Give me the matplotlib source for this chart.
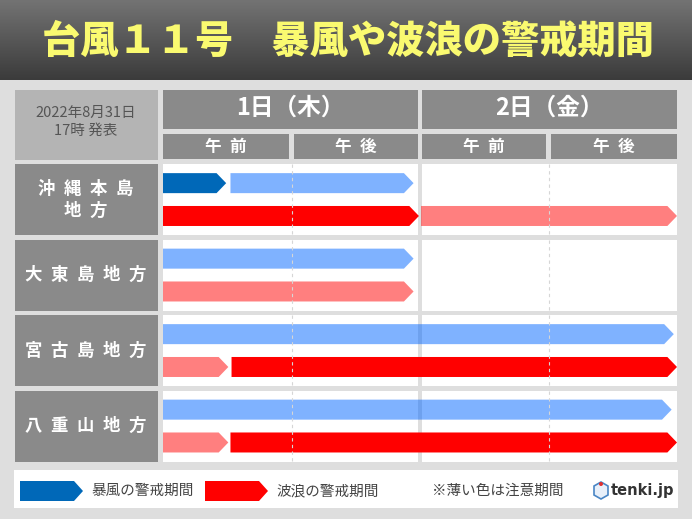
import numpy as np
import matplotlib
matplotlib.use('Agg')
import matplotlib.pyplot as plt
from matplotlib.patches import Polygon, Rectangle, Circle
from matplotlib.colors import LinearSegmentedColormap
from matplotlib.transforms import blended_transform_factory

plt.rcParams['font.family'] = ['Noto Sans CJK JP', 'DejaVu Sans']

W, H = 692, 519
SP = '\u2002'

title = '台風１１号　暴風や波浪の警戒期間'
issued = ['2022年8月31日', '17時 発表']
regions = ['沖縄本島\n地方', '大東島地方', '宮古島地方', '八重山地方']
days = ['1日（木）', '2日（金）']
halves = ['午前', '午後']

# periods in hours from 1st 00:00 : (start, end, warning?)
storm = [
    [(0, 5.9, True), (6.3, 23.4, False)],
    [(0, 23.4, False)],
    [(0, 47.7, False)],
    [(0, 47.5, False)],
]
wave = [
    [(0, 23.9, True), (24.1, 48, False)],
    [(0, 23.4, False)],
    [(0, 6.1, False), (6.4, 48, True)],
    [(0, 6.1, False), (6.3, 48, True)],
]
legend_labels = ['暴風の警戒期間', '波浪の警戒期間', '※薄い色は注意期間']

BG = '#dedede'
HEAD = '#8a8a8a'
STORM = '#0068b8'
WAVE = '#ff0000'


def arrow(x0, x1, yc, h, tip):
    return [(x0, yc - h / 2), (x1 - tip, yc - h / 2), (x1, yc),
            (x1 - tip, yc + h / 2), (x0, yc + h / 2)]


def spaced(s):
    return '\n'.join(SP.join(line) for line in s.split('\n'))


fig = plt.figure(figsize=(6.92, 5.19), dpi=100, facecolor=BG)
ax = fig.add_axes([0, 0, 1, 1])
ax.axis('off')

# title bar
grad = np.linspace(0, 1, 100).reshape(-1, 1)
cm = LinearSegmentedColormap.from_list('bar', ['#737373', '#3b3b3b'])
ax.imshow(grad, extent=[0, W, 80, 0], cmap=cm, aspect='auto')
ax.set_xlim(0, W)
ax.set_ylim(H, 0)
ax.text(W / 2 + 2, 42, title, color='#fafa70', fontsize=27.5, fontweight='heavy',
        ha='center', va='center')

# chart axes: x in hours, y in rows
x0p, x1p, y0p, y1p = 163, 677, 162, 464
gx = fig.add_axes([x0p / W, 1 - y1p / H, (x1p - x0p) / W, (y1p - y0p) / H])
gx.set_xlim(0, 48)
gx.set_ylim(4, 0)
gx.axis('off')
gx.patch.set_alpha(0)

day_spans = [(0, 23.8), (24.2, 48)]
half_spans = [(0, 11.8), (12.2, 23.8), (24.2, 35.8), (36.2, 48)]

tr_head = blended_transform_factory(gx.transData, ax.transData)
tr_rows = blended_transform_factory(ax.transData, gx.transData)

# date box
ax.add_patch(Rectangle((15, 90), 143, 70, fc='#b4b4b4', ec='none'))
ax.text(86, 113, issued[0], color='#555555', fontsize=10.5, ha='center', va='center')
ax.text(86, 131, issued[1], color='#555555', fontsize=10.5, ha='center', va='center')

# day headers
for (a, b), lab in zip(day_spans, days):
    ax.add_patch(Rectangle((a, 90), b - a, 39, fc=HEAD, ec='none',
                           transform=tr_head, clip_on=False))
    ax.text((a + b) / 2, 108, lab, color='white', fontsize=17, fontweight='bold',
            ha='center', va='center', transform=tr_head)
for k, (a, b) in enumerate(half_spans):
    ax.add_patch(Rectangle((a, 134), b - a, 25, fc=HEAD, ec='none',
                           transform=tr_head, clip_on=False))
    ax.text((a + b) / 2, 146.5, spaced(halves[k % 2]), color='white', fontsize=12,
            fontweight='bold', ha='center', va='center', transform=tr_head)

# rows
for i, name in enumerate(regions):
    ax.add_patch(Rectangle((15, i + 0.03), 143, 0.94, fc=HEAD, ec='none',
                           transform=tr_rows, clip_on=False))
    ax.text(86, i + 0.5, spaced(name), color='white', fontsize=12.5, fontweight='bold',
            ha='center', va='center', linespacing=1.3, transform=tr_rows)
    for a, b in day_spans:
        gx.add_patch(Rectangle((a, i + 0.03), b - a, 0.94, fc='white', ec='none'))
    gx.vlines([12, 36], i + 0.03, i + 0.97, colors='#d6d6d6', lw=0.8,
              linestyles=(0, (3, 3)))

bar_h = 0.265
tip = 0.9
for i in range(4):
    for s, e, warn in storm[i]:
        gx.add_patch(Polygon(arrow(s, e, i + 0.28, bar_h, tip),
                             fc=STORM if warn else '#0066ff',
                             alpha=1 if warn else 0.5, ec='none'))
    for s, e, warn in wave[i]:
        gx.add_patch(Polygon(arrow(s, e, i + 0.715, bar_h, tip),
                             fc=WAVE, alpha=1 if warn else 0.5, ec='none'))

# legend
ax.add_patch(Rectangle((14, 470), 664, 38, fc='white', ec='none'))
ax.add_patch(Polygon(arrow(20, 83, 491, 20, 9), fc=STORM, ec='none'))
ax.text(91, 491, legend_labels[0], color='#444444', fontsize=10.5, va='center')
ax.add_patch(Polygon(arrow(205, 268, 491, 20, 9), fc=WAVE, ec='none'))
ax.text(276, 491, legend_labels[1], color='#444444', fontsize=10.5, va='center')
ax.text(432, 491, legend_labels[2], color='#444444', fontsize=10.5, va='center')

# tenki.jp mark
ax.add_patch(Polygon([(594, 486), (601, 482), (608, 486), (608, 495), (601, 499), (594, 495)],
                     fc='#e8f0fa', ec='#4a86c5', lw=1.2))
ax.add_patch(Circle((601, 484), 2, fc='#e03030', ec='none'))
ax.text(611, 491, 'tenki.jp', color='#333333', fontsize=10.5, fontweight='bold',
        va='center', family='DejaVu Sans')

fig.savefig('out.png', dpi=100, facecolor=BG)
